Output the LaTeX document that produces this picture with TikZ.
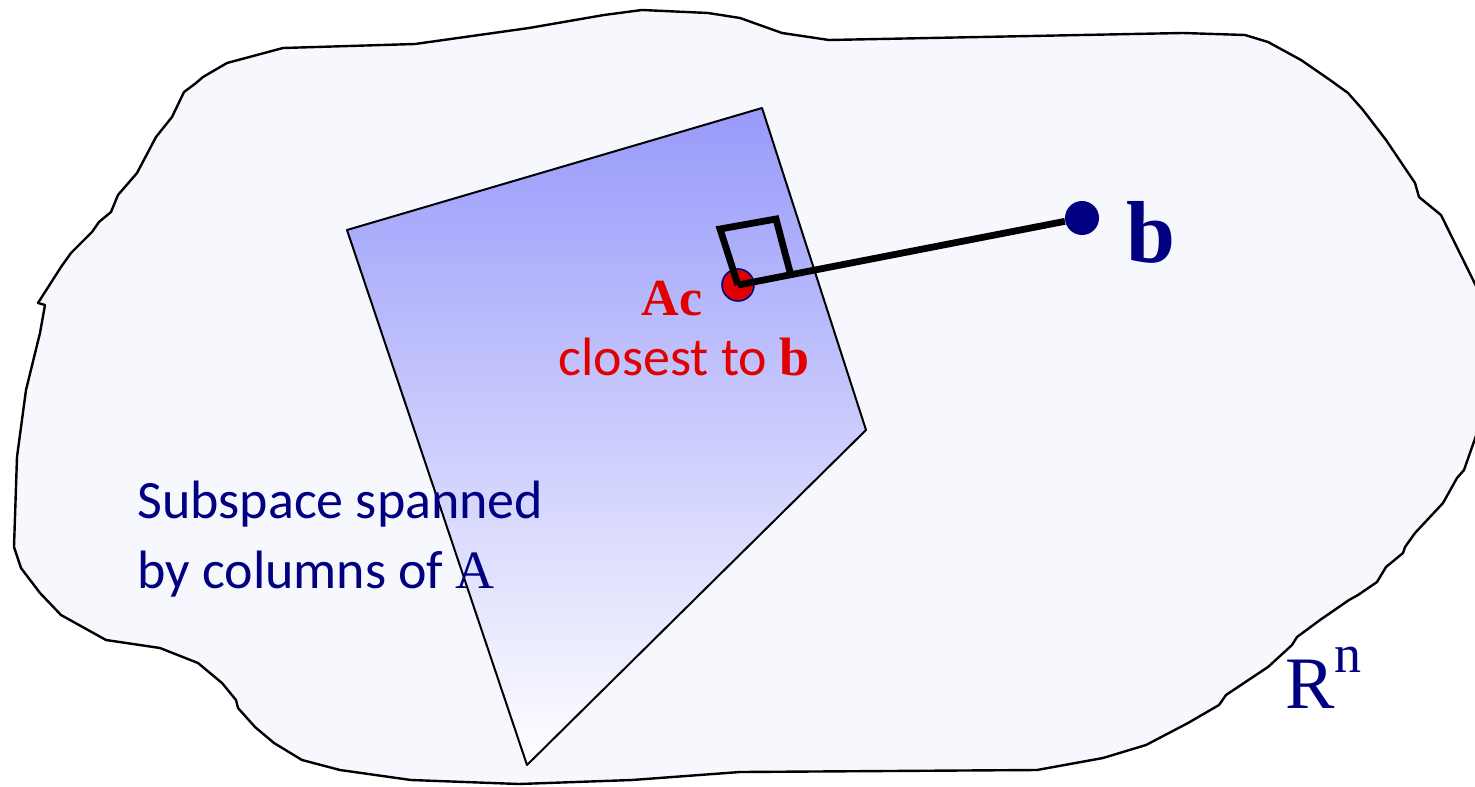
\documentclass[tikz,border=0pt]{standalone}
\usepackage{fontspec}
\setmainfont{Liberation Serif}
\newfontfamily\calib{Carlito}
\usetikzlibrary{positioning}
\definecolor{spacefill}{RGB}{247,248,254}
\definecolor{planetop}{RGB}{152,154,250}
\definecolor{ptnavy}{RGB}{0,0,128}
\definecolor{ptred}{RGB}{224,0,0}
\tikzset{
  spaceln/.style={line width=1.2pt, line join=round, fill=spacefill},
  planeln/.style={line width=1pt, line join=round, top color=planetop, bottom color=white},
  projln/.style={line width=3.4pt, line join=miter},
  dotac/.style={circle, fill=ptred, draw=ptnavy, line width=0.8pt, minimum size=16pt, inner sep=0pt},
  dotb/.style={circle, fill=ptnavy, minimum size=17pt, inner sep=0pt},
  sanslbl/.style={font=\calib\fontsize{27}{35}\selectfont},
}
\begin{document}
\begin{tikzpicture}[x=0.5pt, y=-0.5pt]
    \useasboundingbox (0,0) rectangle (1475,786);
    % --- the space R^n ---
    \draw[spaceln]
      (38,303) -- (61,267) -- (71,253) -- (92,232) -- (99,222) -- (111,212)
      -- (118,195) -- (137,173) -- (156,137) -- (172,117) -- (184,92)
      -- (196,83) -- (203,77) -- (227,63) -- (283,48) -- (415,44)
      -- (529,28) -- (604,15) -- (642,10) -- (708,13) -- (740,18)
      -- (754,23) -- (782,33) -- (829,40) -- (1183,33) -- (1245,35)
      -- (1268,42) -- (1301,60) -- (1330,80) -- (1348,93) -- (1363,110)
      -- (1386,140) -- (1415,183) -- (1419,197) -- (1441,215) -- (1478,290)
      -- (1478,430) -- (1471,450) -- (1464,470) -- (1457,478) -- (1443,503)
      -- (1429,518) -- (1415,533) -- (1405,547) -- (1403,553) -- (1386,567)
      -- (1377,582) -- (1358,595) -- (1349,600) -- (1320,620) -- (1297,637)
      -- (1292,645) -- (1268,667) -- (1226,695) -- (1219,705) -- (1188,723)
      -- (1146,745) -- (1103,758) -- (1037,770) -- (740,772) -- (632,780)
      -- (519,784) -- (411,780) -- (340,770) -- (302,760) -- (274,743)
      -- (255,727) -- (238,708) -- (236,700) -- (222,683) -- (198,663)
      -- (160,648) -- (106,640) -- (61,615) -- (40,593) -- (21,568)
      -- (14,547) -- (17,457) -- (26,390) -- (40,333) -- (45,305) -- cycle;
    % --- the subspace ---
    \shade[planeln, draw=black] (347,230) -- (762,108) -- (866,430) -- (527,765) -- cycle;
    % --- projection ---
    \node[dotac] (ac) at (738,285) {};
    \node[dotb] (b) at (1082,218) {};
    \draw[projln] (ac.center) -- (b);
    \draw[projln] (790,272) -- (776,219) -- (720,229) -- (ac.center);
    % --- labels ---
    \node[ptnavy, anchor=base west, inner sep=0pt, font=\bfseries\fontsize{44}{44}\selectfont]
      (blbl) at (1126,262) {b};
    \node[ptred, anchor=base, inner sep=0pt, font=\bfseries\fontsize{26}{26}\selectfont]
      (aclbl) at (672,315) {A\textbf{c}};
    \node[ptred, anchor=base, inner sep=0pt, sanslbl]
      (closelbl) at (684,375) {closest to {\rmfamily\bfseries b}};
    \node[ptnavy, anchor=base west, inner sep=0pt, align=left, sanslbl]
      (sublbl) at (137,588) {Subspace spanned\\by columns of {\rmfamily A}};
    \node[ptnavy, anchor=base west, inner sep=0pt, font=\fontsize{37}{37}\selectfont]
      (rnlbl) at (1285,708) {R\raisebox{18pt}{\fontsize{27}{27}\selectfont n}};
\end{tikzpicture}
\end{document}
